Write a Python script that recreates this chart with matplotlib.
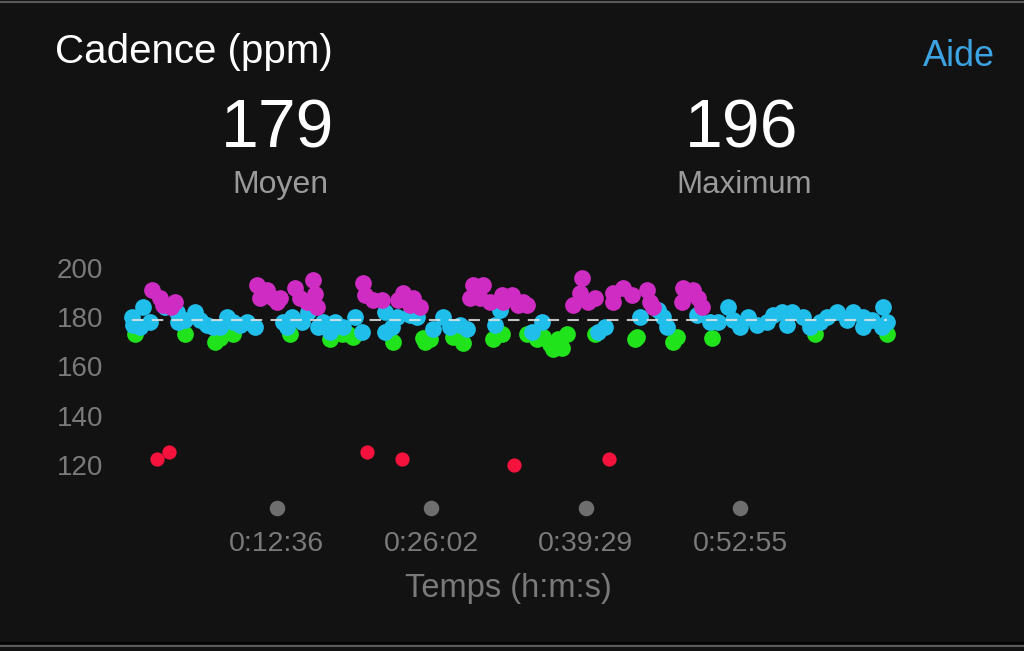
import matplotlib.pyplot as plt
from matplotlib.lines import Line2D
from matplotlib.transforms import blended_transform_factory

# cadence points (time in minutes, steps per minute), grouped by zone colour
purple_t = [1.74, 2.44, 2.70, 3.74, 3.40, 10.88, 11.75, 11.14, 12.27, 12.88, 12.62, 14.18,
            15.75, 14.62, 15.23, 15.92, 16.10, 20.10, 20.27, 20.97, 21.75, 23.58, 23.14,
            24.45, 24.19, 25.06, 29.67, 30.54, 29.41, 30.28, 31.15, 32.19, 32.28, 33.06,
            34.02, 33.58, 34.37, 39.15, 38.98, 38.37, 39.67, 40.28, 41.85, 42.72, 43.50,
            41.85, 44.81, 45.07, 45.33, 47.94, 48.55, 47.85, 48.81, 49.24, 49.59]
purple_v = [191, 188, 185, 186, 184, 193, 191, 188, 188, 188, 186, 192,
            195, 188, 186, 189.5, 184, 194, 189, 187, 187, 190, 187,
            188, 185, 184, 193, 193, 188, 188, 186, 189, 186, 189,
            186, 185, 185, 196, 190, 185, 186, 188, 190, 192, 189,
            186, 191, 186, 184, 192, 190, 186, 191, 188, 184]

blue_t = [0.0, 0.09, 0.96, 0.70, 1.57, 2.87, 3.92, 4.00, 4.61, 5.48, 5.92, 6.53, 7.05, 7.66,
          8.27, 8.79, 9.40, 10.01, 10.70, 13.14, 13.92, 13.49, 14.80, 15.31, 16.18, 16.62,
          17.66, 17.23, 18.36, 19.40, 20.01, 22.01, 23.06, 22.62, 22.01, 24.19, 24.80,
          26.19, 27.06, 27.67, 28.54, 29.15, 32.02, 31.58, 35.67, 34.80, 41.15, 40.54,
          44.20, 45.76, 46.20, 46.55, 49.16, 50.29, 50.98, 51.85, 52.29, 52.90, 53.59,
          54.38, 55.25, 55.77, 56.55, 57.42, 56.99, 58.38, 58.99, 59.86, 60.47, 61.34,
          62.21, 62.73, 63.60, 64.38, 65.34, 65.69, 65.25, 63.60]
blue_v = [180, 177, 184, 176, 178, 184, 182, 178, 179, 182, 179, 177, 176, 176,
          180, 178, 177, 178, 176, 178, 180, 176, 178, 182, 176, 178,
          178, 174, 176, 180, 174, 182, 180, 176, 174, 181, 180,
          175, 180, 176, 177, 175, 183, 177, 178, 174, 176, 174,
          180, 183, 180, 176, 181, 178, 178, 184, 179, 176, 180,
          177, 178, 181, 182, 182, 177, 180, 176, 178, 180, 182,
          179, 182, 180, 179, 184, 178, 176, 176]

green_t = [0.26, 4.61, 7.22, 7.66, 8.79, 13.75, 17.23, 18.27, 18.79, 19.23, 22.71, 25.32,
           25.49, 25.93, 27.93, 28.80, 31.41, 31.84, 32.19, 34.37, 35.24, 35.76, 36.37,
           37.06, 37.85, 37.41, 36.63, 40.28, 43.76, 43.94, 47.07, 47.42, 50.46, 59.42, 65.69]
green_v = [173, 173, 170, 171.5, 173, 173, 171, 173, 173, 172, 170, 171.5,
           170, 171, 172, 169.5, 171, 173.5, 173, 173, 171, 172, 169,
           171, 173, 167.5, 167, 173, 171, 172, 170, 172, 171.5, 173, 173]

red_t = [2.18, 3.22, 20.45, 23.49, 33.23, 41.50]
red_v = [122.4, 125, 125, 122.4, 120, 122.4]

avg_cadence = 179
max_cadence = 196
end_time = 65.7

y_ticks = [120, 140, 160, 180, 200]
x_ticks = [12.6, 26.033, 39.483, 52.917]
x_labels = ["0:12:36", "0:26:02", "0:39:29", "0:52:55"]

BG = "#121212"
GREY = "#7a7a7a"
FONT = "Liberation Sans"

fig = plt.figure(figsize=(10.24, 6.51), dpi=100, facecolor=BG)
ax = fig.add_axes([120 / 1024, 1 - 480 / 651, 780 / 1024, 222 / 651], facecolor=BG)

ax.scatter(green_t, green_v, s=145, color="#20e31c", linewidths=0, zorder=2)
ax.scatter(blue_t, blue_v, s=145, color="#20bfeb", linewidths=0, zorder=3)
ax.scatter(purple_t, purple_v, s=145, color="#cf2cc3", linewidths=0, zorder=3)
ax.scatter(red_t, red_v, s=105, color="#f5123d", linewidths=0, zorder=3)

ax.hlines(avg_cadence, 0, end_time, colors="#e4e4e4", linewidth=1.5,
          linestyles=(0, (5.5, 4)), alpha=0.85, zorder=4)

ax.set_xlim(-1.04, 66.8)
ax.set_ylim(113.8, 204.07)
for s in ax.spines.values():
    s.set_visible(False)

ax.set_yticks(y_ticks)
ax.set_yticklabels([str(v) for v in y_ticks], fontsize=20, color=GREY, family=FONT)
ax.tick_params(axis="y", length=0, pad=12)

ax.set_xticks(x_ticks)
ax.set_xticklabels(x_labels, fontsize=20.5, color=GREY, family=FONT)
ax.tick_params(axis="x", length=0, pad=37)

# grey dots marking the time ticks
trans = blended_transform_factory(ax.transData, ax.transAxes)
ax.scatter(x_ticks, [-0.126] * len(x_ticks), s=125, color="#6e6e6e",
           linewidths=0, transform=trans, clip_on=False)

# header
fig.text(55 / 1024, 1 - 52 / 651, "Cadence (ppm)", fontsize=29, color="white",
         family=FONT, va="center", ha="left")
fig.text(995 / 1024, 1 - 56 / 651, "Aide", fontsize=26, color="#3da2e2",
         family=FONT, va="center", ha="right")
fig.text(278 / 1024, 1 - 129 / 651, str(avg_cadence), fontsize=49, color="white",
         family=FONT, va="center", ha="center")
fig.text(280 / 1024, 1 - 185 / 651, "Moyen", fontsize=23, color="#9a9a9a",
         family=FONT, va="center", ha="center")
fig.text(742 / 1024, 1 - 129 / 651, str(max_cadence), fontsize=49, color="white",
         family=FONT, va="center", ha="center")
fig.text(744 / 1024, 1 - 185 / 651, "Maximum", fontsize=22.5, color="#9a9a9a",
         family=FONT, va="center", ha="center")
fig.text(508 / 1024, 1 - 589 / 651, "Temps (h:m:s)", fontsize=23.5, color=GREY,
         family=FONT, va="center", ha="center")

# thin frame lines at top and bottom
fig.add_artist(Line2D([0, 1], [1 - 1.5 / 651] * 2, color="#5a5a5a", lw=1.5))
fig.add_artist(Line2D([0, 1], [1 - 643 / 651] * 2, color="#000000", lw=1.2))
fig.add_artist(Line2D([0, 1], [1 - 645.5 / 651] * 2, color="#6a6a6a", lw=1.2))

fig.savefig("out.png", dpi=100, facecolor=BG)
